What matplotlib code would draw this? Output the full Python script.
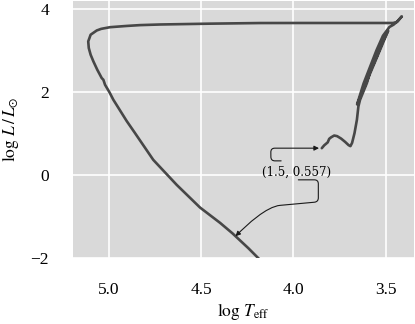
import matplotlib
matplotlib.use('Agg')
import matplotlib.pyplot as plt
from matplotlib.path import Path

plt.rcParams['font.family'] = ['Liberation Serif', 'DejaVu Serif']
plt.rcParams['mathtext.fontset'] = 'stix'

# evolutionary track: pre-MS -> MS -> RGB -> clump -> AGB -> post-AGB -> WD cooling
log_teff = [
    3.846, 3.833, 3.814, 3.806, 3.796, 3.779, 3.763, 3.741, 3.720, 3.701,
    3.691, 3.682, 3.669, 3.656, 3.648, 3.639,
    3.602, 3.584, 3.548, 3.512, 3.487,
    3.655,
    3.620, 3.585, 3.550, 3.515, 3.480, 3.458, 3.435, 3.413,
    3.440, 3.460,
    3.683, 3.963, 4.180, 4.451, 4.721, 4.830, 4.902, 4.992, 5.040, 5.064,
    5.097, 5.110, 5.107, 5.097, 5.082, 5.061, 5.037, 5.028, 5.019, 4.995,
    4.974, 4.902, 4.860, 4.758, 4.631, 4.505, 4.396, 4.330, 4.243, 4.189, 4.150,
]
log_lum = [
    0.647, 0.715, 0.787, 0.871, 0.907, 0.951, 0.936, 0.876, 0.799, 0.720,
    0.696, 0.775, 1.008, 1.329, 1.649, 1.810,
    2.212, 2.491, 2.852, 3.254, 3.470,
    1.700,
    2.200, 2.600, 3.000, 3.350, 3.560, 3.615, 3.700, 3.815,
    3.680, 3.656,
    3.656, 3.656, 3.655, 3.640, 3.620, 3.605, 3.585, 3.555, 3.515, 3.476,
    3.374, 3.213, 3.054, 2.893, 2.732, 2.532, 2.332, 2.291, 2.171, 1.990,
    1.810, 1.300, 1.030, 0.366, -0.236, -0.780, -1.150, -1.398, -1.759, -2.000, -2.160,
]

label_text = '(1.5, 0.557)'
wd_target = (4.313, -1.470)

xticks = [5.0, 4.5, 4.0, 3.5]
yticks = [-2, 0, 2, 4]


def hook_path(posA, posB, patchA=None, patchB=None, shrinkA=0., shrinkB=0.):
    # right, down, then sweep left into the target (display pixels)
    (x1, y1), (x2, y2) = posA, posB
    arm, drop, run, r = 20, 22, 34, 4
    xc = x1 + arm
    yb = y1 - drop
    xm, ym = xc - r - run, yb - 3.5
    verts = [(x1, y1), (xc - r, y1), (xc, y1), (xc, y1 - r),
             (xc, yb + r), (xc, yb), (xc - r, yb - 0.4),
             (xm, ym), (xm - 14, ym - 1.3), (x2 + 12, y2 + 12), (x2, y2)]
    codes = [Path.MOVETO, Path.LINETO, Path.CURVE3, Path.CURVE3,
             Path.LINETO, Path.CURVE3, Path.CURVE3,
             Path.LINETO, Path.CURVE4, Path.CURVE4, Path.CURVE4]
    return Path(verts, codes)


fig = plt.figure(figsize=(4.15, 3.24), dpi=100)
ax = fig.add_axes([0.1752, 0.2028, 0.8224, 0.7948])
ax.set_facecolor('#d9d9d9')
for s in ax.spines.values():
    s.set_visible(False)
ax.grid(True, color='white', lw=1.2)
ax.set_axisbelow(True)

ax.plot(log_teff, log_lum, color='#474747', lw=1.9, solid_capstyle='round',
        solid_joinstyle='round', zorder=3)

ax.text(3.980, 0.077, label_text, ha='center', va='center', fontsize=8.5,
        family='DejaVu Serif', zorder=5)
ax.annotate('', xy=(log_teff[0], log_lum[0]), xytext=(4.051, 0.342),
            arrowprops=dict(arrowstyle='-|>', color='#1a1a1a', lw=0.8, mutation_scale=7,
                            connectionstyle='arc,angleA=180,armA=13,angleB=180,armB=51,rad=4'))
ax.annotate('', xy=wd_target, xytext=(3.973, -0.114),
            arrowprops=dict(arrowstyle='-|>', color='#1a1a1a', lw=0.8, mutation_scale=7,
                            shrinkA=0, shrinkB=2, connectionstyle=hook_path))

ax.set_xlim(5.194, 3.347)
ax.set_ylim(-2, 4.19)
ax.set_xticks(xticks)
ax.set_xticklabels([f'{t:.1f}' for t in xticks])
ax.set_yticks(yticks)
ax.tick_params(length=0, pad=17, labelsize=12.5)
ax.set_xlabel(r'$\log\,T_{\rm eff}$', fontsize=12.5, labelpad=2)
ax.set_ylabel(r'$\log\,L\,/\,L_{\odot}$', fontsize=12.5, labelpad=7)

fig.savefig('out.png', dpi=100)
